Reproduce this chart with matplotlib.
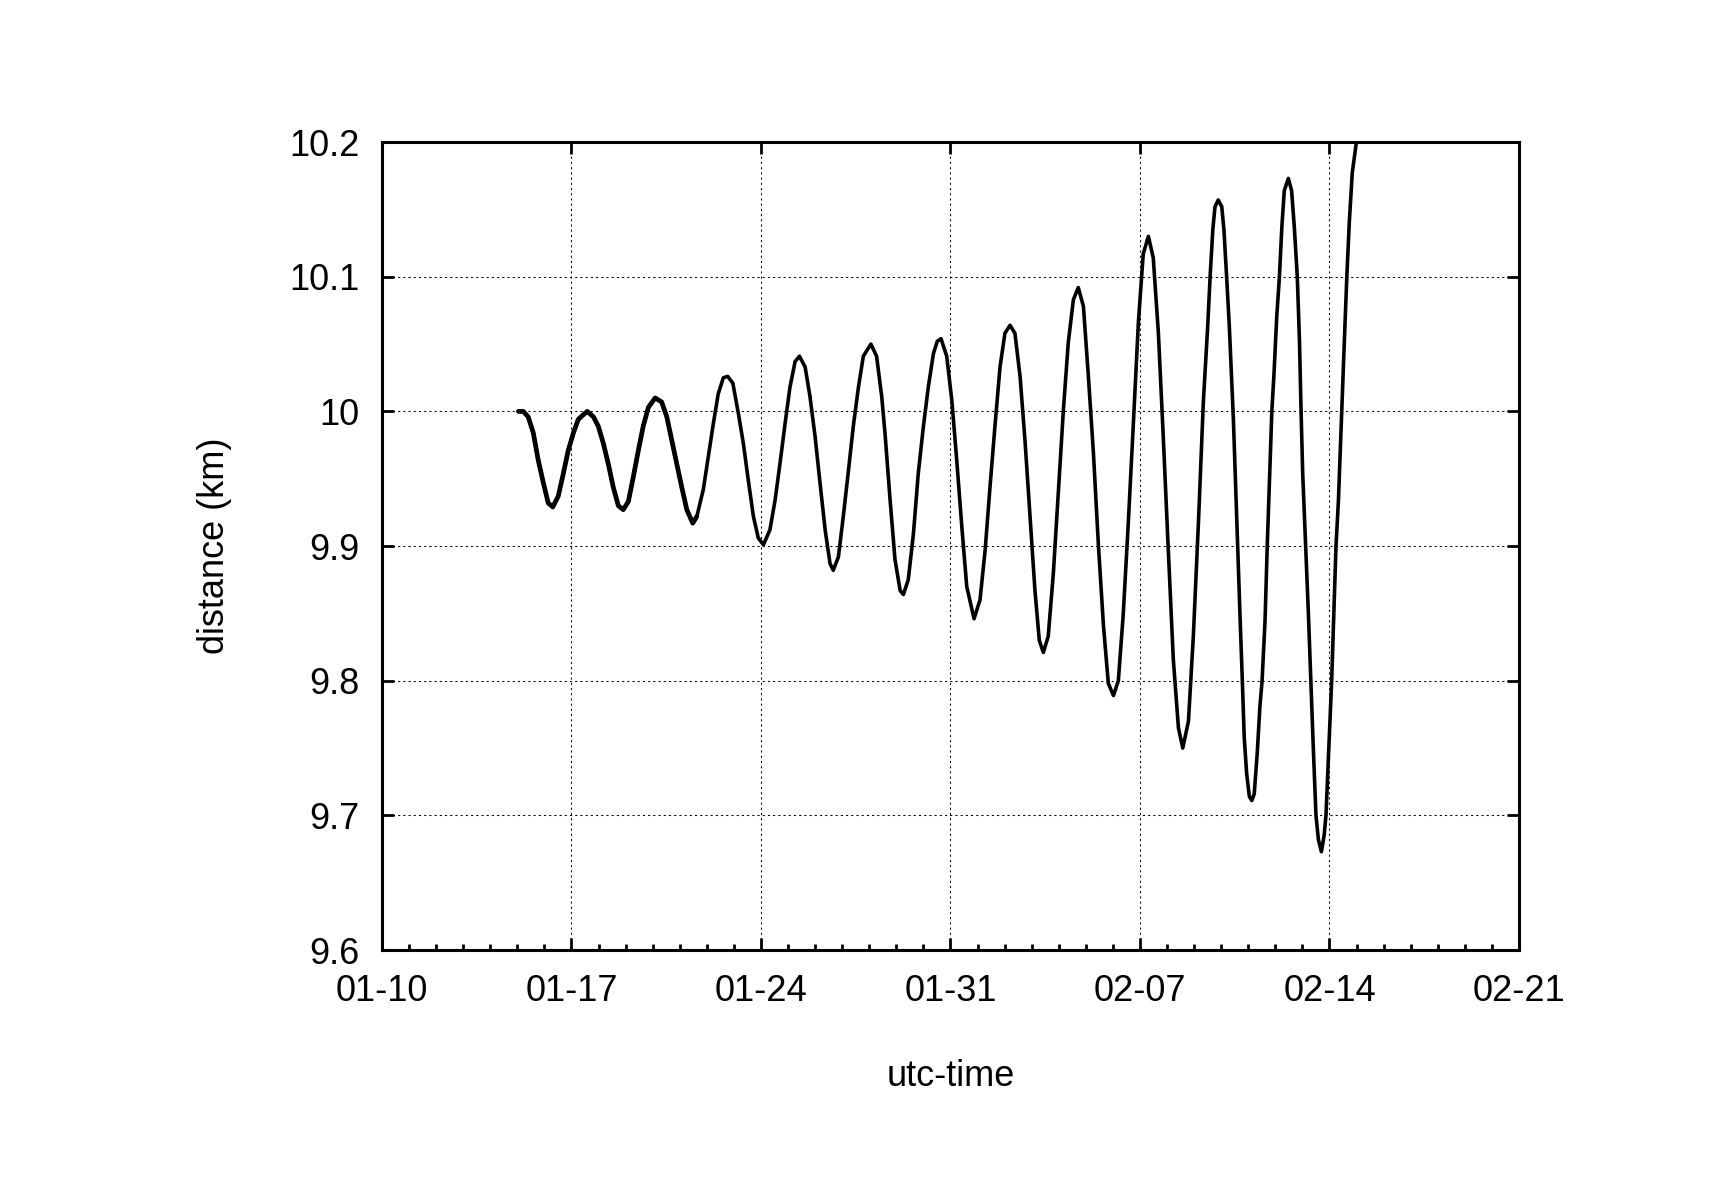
import matplotlib
matplotlib.use('Agg')
import matplotlib.pyplot as plt
import matplotlib.dates as mdates
import numpy as np

plt.rcParams['font.family'] = ['Liberation Sans', 'DejaVu Sans']

# days after 01-10 00:00 and distance (km)
t_days = [
    5.04, 5.22, 5.40, 5.59, 5.77, 5.96, 6.14, 6.31, 6.51, 6.70,
    6.88, 7.07, 7.25, 7.41, 7.58, 7.81, 7.99, 8.18, 8.36, 8.54,
    8.73, 8.91, 9.10, 9.28, 9.47, 9.65, 9.84, 10.09, 10.33, 10.52,
    10.70, 10.89, 11.07, 11.26, 11.48,
    11.63, 11.87, 12.05, 12.24, 12.42, 12.61, 12.77, 12.96, 13.16, 13.35,
    13.53, 13.72, 13.90, 14.09, 14.33, 14.52, 14.70, 14.89, 15.07, 15.26,
    15.42, 15.63, 15.81, 16.00, 16.18, 16.37, 16.55, 16.67, 16.86, 17.04,
    17.23, 17.41, 17.60, 17.78, 18.06, 18.27, 18.46,
    18.58, 18.77, 18.95, 19.14, 19.26, 19.44, 19.63, 19.81, 20.00, 20.18,
    20.37, 20.51, 20.65, 20.86, 21.05, 21.23, 21.42, 21.60, 21.87, 22.09,
    22.28, 22.46, 22.65, 22.83, 23.01, 23.20, 23.38, 23.57, 23.75, 23.94,
    24.12, 24.28, 24.43, 24.61, 24.80, 24.98, 25.17, 25.35,
    25.54, 25.72, 25.91, 26.09, 26.28, 26.46, 26.65, 26.83, 27.02, 27.20,
    27.38, 27.57, 27.75, 27.94, 28.12, 28.31, 28.49, 28.68, 28.86, 29.05,
    29.23, 29.42, 29.58, 29.79, 29.97, 30.16, 30.34,
    30.50, 30.59, 30.69, 30.77, 30.89, 31.02, 31.10, 31.20, 31.30, 31.45,
    31.59, 31.70, 31.78, 31.85, 31.94, 32.04, 32.13, 32.22, 32.33, 32.43,
    32.51, 32.62, 32.70, 32.87, 32.95, 33.05, 33.15, 33.24, 33.33, 33.48,
    33.60, 33.70, 33.81, 33.89, 33.95, 34.01, 34.12, 34.22, 34.31, 34.40,
    34.50, 34.59, 34.70, 34.80, 34.87, 35.08, 35.24, 35.33, 35.45, 35.55,
    35.64, 35.73, 35.84, 35.98, 36.05,
]
dist_km = [
    10.000, 10.000, 9.996, 9.984, 9.964, 9.947, 9.932, 9.929, 9.937, 9.954,
    9.971, 9.984, 9.994, 9.997, 10.000, 9.996, 9.989, 9.976, 9.961, 9.944,
    9.930, 9.927, 9.933, 9.951, 9.971, 9.989, 10.003, 10.010, 10.007, 9.996,
    9.979, 9.961, 9.944, 9.927, 9.917,
    9.922, 9.942, 9.966, 9.991, 10.013, 10.025, 10.026, 10.021, 9.999, 9.976,
    9.949, 9.922, 9.906, 9.901, 9.912, 9.934, 9.961, 9.991, 10.018, 10.037,
    10.041, 10.033, 10.011, 9.981, 9.947, 9.912, 9.887, 9.882, 9.892, 9.922,
    9.956, 9.989, 10.018, 10.041, 10.050, 10.041, 10.011,
    9.984, 9.934, 9.890, 9.867, 9.864, 9.875, 9.909, 9.954, 9.989, 10.018,
    10.043, 10.052, 10.054, 10.041, 10.008, 9.964, 9.914, 9.870, 9.846, 9.860,
    9.897, 9.944, 9.991, 10.033, 10.058, 10.064, 10.058, 10.026, 9.979, 9.922,
    9.867, 9.830, 9.821, 9.833, 9.880, 9.939, 10.001, 10.051,
    10.083, 10.092, 10.078, 10.027, 9.969, 9.902, 9.841, 9.798, 9.789, 9.800,
    9.849, 9.918, 9.989, 10.066, 10.117, 10.130, 10.114, 10.058, 9.981, 9.895,
    9.816, 9.765, 9.750, 9.770, 9.833, 9.918, 10.007,
    10.063, 10.100, 10.135, 10.152, 10.157, 10.152, 10.135, 10.100, 10.063, 9.994,
    9.910, 9.845, 9.800, 9.758, 9.731, 9.714, 9.711, 9.716, 9.746, 9.781,
    9.800, 9.845, 9.900, 10.000, 10.028, 10.070, 10.100, 10.137, 10.164, 10.173,
    10.164, 10.137, 10.100, 10.053, 10.000, 9.954, 9.900, 9.850, 9.800, 9.751,
    9.700, 9.682, 9.673, 9.685, 9.700, 9.800, 9.900, 9.934, 10.000, 10.053,
    10.100, 10.140, 10.177, 10.198, 10.215,
]

x_tick_days = [0, 7, 14, 21, 28, 35, 42]
y_ticks = [9.6, 9.7, 9.8, 9.9, 10.0, 10.1, 10.2]
y_tick_labels = ['9.6', '9.7', '9.8', '9.9', '10', '10.1', '10.2']

t0 = np.datetime64('2013-01-10T00:00:00')
def to_time(days):
    return t0 + (np.asarray(days) * 86400).astype('timedelta64[s]')

time = to_time(t_days)

fig = plt.figure(figsize=(17.16, 12.0), dpi=100)
ax = fig.add_axes([0.2226, 0.2083, 0.6626, 0.6733])

ax.plot(time, dist_km, color='black', linewidth=2.6, solid_joinstyle='round',
        solid_capstyle='round', zorder=3)
# the first few wiggles are drawn heavier in the original
n_bold = 35
ax.plot(time[:n_bold + 1], dist_km[:n_bold + 1], color='black', linewidth=3.4,
        solid_joinstyle='round', solid_capstyle='round', zorder=3)

ax.set_xlim(mdates.date2num(to_time(0)), mdates.date2num(to_time(42)))
ax.set_ylim(9.6, 10.2)

ax.set_xticks(mdates.date2num(to_time(x_tick_days)))
ax.xaxis.set_major_formatter(mdates.DateFormatter('%m-%d'))
ax.xaxis.set_minor_locator(mdates.DayLocator())
ax.set_yticks(y_ticks)
ax.set_yticklabels(y_tick_labels)

# grid
ax.grid(which='major', color='black', linestyle=(0, (2, 3)), linewidth=0.75)
ax.set_axisbelow(True)

for axis in ['top', 'bottom', 'left', 'right']:
    ax.spines[axis].set_linewidth(2.2)

ax.tick_params(bottom=True, top=True, left=True, right=True)
ax.tick_params(axis='both', which='major', length=8.5, width=2, direction='in',
               labelsize=26)
ax.tick_params(axis='both', which='minor', length=4.3, width=2, direction='in')
ax.tick_params(axis='x', which='major', pad=17)
ax.tick_params(axis='y', which='major', pad=16)

ax.set_xlabel('utc-time', fontsize=26, va='center')
ax.xaxis.set_label_coords(0.5, -0.157)
ax.set_ylabel('distance (km)', fontsize=26, va='center')
ax.yaxis.set_label_coords(-0.147, 0.5)

fig.savefig('out.png', dpi=100)
